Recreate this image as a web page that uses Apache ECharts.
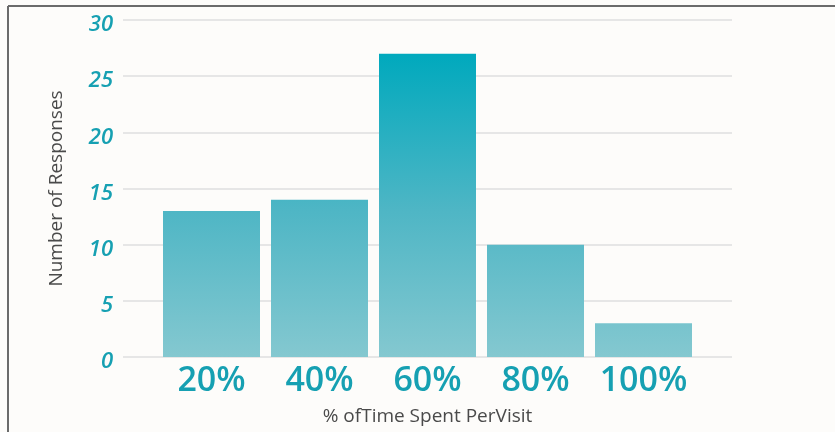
<!DOCTYPE html>
<html>
<head>
<meta charset="utf-8">
<script src="https://cdn.jsdelivr.net/npm/echarts@6/dist/echarts.min.js"></script>
<style>
  html, body { margin: 0; padding: 0; background: #fdfcfa; }
  #chart { width: 835px; height: 432px; }
</style>
</head>
<body>
<div id="chart"></div>
<script>
// data
var categories = ['20%', '40%', '60%', '80%', '100%'];
var responses = [13, 14, 27, 10, 3];
var xName = '% ofTime Spent PerVisit';
var yName = 'Number of Responses';

var teal = '#16a0b2';
var font = '"Open Sans", sans-serif';

var myChart = echarts.init(document.getElementById('chart'));

// bars fade from strong teal at the top of the plot to pale teal at the base
var barColor = new echarts.graphic.LinearGradient(0, 20, 0, 357, [
    { offset: 0, color: '#00a5ba' },
    { offset: 0.1, color: '#00a9bd' },
    { offset: 0.57, color: '#4fb6c5' },
    { offset: 1, color: '#84c8d0' }
], true);

var option = {
    backgroundColor: '#fdfcfa',
    animation: false,
    graphic: [
        { type: 'line', shape: { x1: 8, y1: 6, x2: 835, y2: 6 }, style: { stroke: '#6b6b6b', lineWidth: 2 } },
        { type: 'line', shape: { x1: 8, y1: 6, x2: 8, y2: 432 }, style: { stroke: '#6b6b6b', lineWidth: 2 } }
    ],
    grid: [
        // grid 0 carries the y labels and gridlines
        { left: 123, right: 103, top: 20, bottom: 75 },
        // grid 1 carries the bars and category labels
        { left: 157.5, right: 137.5, top: 20, bottom: 75 }
    ],
    xAxis: [
        { gridIndex: 0, type: 'value', show: false, min: 0, max: 1 },
        {
            gridIndex: 1,
            type: 'category',
            data: categories,
            axisLine: { show: false },
            axisTick: { show: false },
            axisLabel: {
                interval: 0,
                hideOverlap: false,
                color: teal,
                fontFamily: font,
                fontSize: 34,
                fontWeight: 600,
                margin: 7
            },
            name: xName,
            nameLocation: 'middle',
            nameGap: 50,
            nameTextStyle: {
                color: '#4a4a4a',
                fontFamily: font,
                fontSize: 19
            }
        }
    ],
    yAxis: [
        {
            gridIndex: 0,
            type: 'value',
            min: 0,
            max: 30,
            interval: 5,
            axisLine: { show: false },
            axisTick: { show: false },
            splitLine: { lineStyle: { color: '#e6e6e6', width: 2 } },
            axisLabel: {
                color: teal,
                fontFamily: font,
                fontSize: 22,
                fontWeight: 600,
                fontStyle: 'italic',
                margin: 10,
                // the numbers sit a little below their gridlines
                verticalAlign: 'top',
                lineHeight: 10
            },
            name: yName,
            nameLocation: 'middle',
            nameGap: 57,
            nameTextStyle: {
                color: '#4a4a4a',
                fontFamily: font,
                fontSize: 19
            }
        },
        { gridIndex: 1, type: 'value', show: false, min: 0, max: 30 }
    ],
    series: [{
        name: 'responses',
        type: 'bar',
        xAxisIndex: 1,
        yAxisIndex: 1,
        barWidth: 97,
        data: responses,
        itemStyle: { color: barColor }
    }]
};

myChart.setOption(option);
</script>
</body>
</html>
